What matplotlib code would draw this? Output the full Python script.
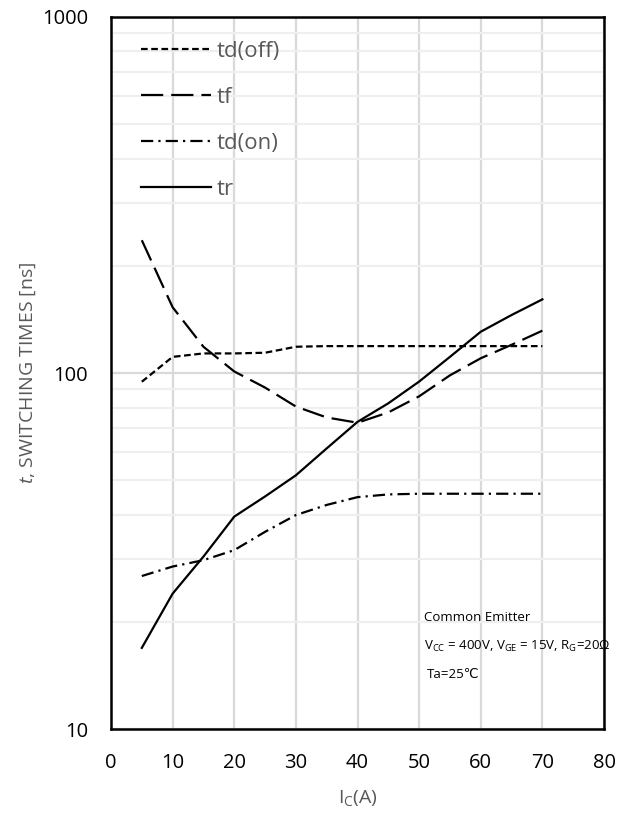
# switching times vs collector current, log y-axis
import matplotlib
matplotlib.use("Agg")
import matplotlib.pyplot as plt
from matplotlib.ticker import FixedLocator, NullFormatter

plt.rcParams["font.family"] = ["Open Sans", "DejaVu Sans"]
plt.rcParams["mathtext.fontset"] = "custom"
plt.rcParams["mathtext.rm"] = "Open Sans"
plt.rcParams["mathtext.it"] = "Open Sans:italic"

# %% data
ic = [5, 10, 15, 20, 25, 30, 35, 40, 45, 50, 55, 60, 65, 70]
td_off = [94.5, 111, 113.5, 113.5, 114, 118.5, 119, 119, 119, 119, 119, 119, 119, 119]
tf = [236, 153, 118.5, 101, 91, 80.5, 75, 72.5, 77.5, 86, 98.5, 110, 120, 131.5]
td_on = [26.9, 28.6, 29.8, 31.8, 35.8, 39.9, 42.6, 44.8, 45.6, 45.8, 45.8, 45.8, 45.8, 45.8]
tr = [16.9, 24.0, 30.5, 39.5, 45, 51.6, 61.4, 72.9, 82.2, 94.6, 111, 130.6, 145.5, 161]

x_ticks = [0, 10, 20, 30, 40, 50, 60, 70, 80]
y_ticks = [10, 100, 1000]

gray = "#595959"

# %% plot
fig = plt.figure(figsize=(6.25, 8.17), dpi=100)
ax = fig.add_axes([0.1776, 0.1077, 0.7888, 0.8715])

ax.plot(ic, td_off, color="black", lw=1.6, ls=(0, (3, 1.6)), label="td(off)")
ax.plot(ic, tf, color="black", lw=1.6, ls=(0, (10, 3.6)), label="tf")
ax.plot(ic, td_on, color="black", lw=1.6, ls=(0, (5.5, 2.3, 1, 2.3)), label="td(on)")
ax.plot(ic, tr, color="black", lw=1.6, ls="-", label="tr")

ax.set_yscale("log")
ax.set_xlim(0, 80)
ax.set_ylim(10, 1000)
ax.set_xticks(x_ticks)
ax.set_yticks(y_ticks)
ax.set_yticklabels([str(v) for v in y_ticks])
ax.yaxis.set_minor_locator(FixedLocator([m * d for d in (10, 100) for m in range(2, 10)]))
ax.yaxis.set_minor_formatter(NullFormatter())
ax.tick_params(which="both", length=0, labelsize=14.5, colors="black")
ax.tick_params(axis="x", pad=17)
ax.tick_params(axis="y", pad=16.5)

ax.grid(True, which="major", axis="both", color="#d9d9d9", lw=1.6)
ax.grid(True, which="minor", axis="y", color="#efefef", lw=1.6)
ax.set_axisbelow(True)
for s in ax.spines.values():
    s.set_linewidth(1.8)
    s.set_color("black")

ax.set_xlabel(r"I$_{\mathrm{C}}$(A)", fontsize=14, color=gray, labelpad=11)
ax.set_ylabel(r"$t$, SWITCHING TIMES [ns]", fontsize=14, color=gray, labelpad=3)

leg = ax.legend(loc="upper left", bbox_to_anchor=(0.061, 0.966), frameon=False,
                borderpad=0, borderaxespad=0,
                fontsize=16, labelcolor=gray, handlelength=3.15, handletextpad=0.27,
                labelspacing=1.12)

# annotation box
ax.text(0.635, 0.152, "Common Emitter", transform=ax.transAxes, fontsize=9.5, color="black")
ax.text(0.635, 0.111, r"V$_{\mathrm{CC}}$ = 400V, V$_{\mathrm{GE}}$ = 15V, R$_{\mathrm{G}}$=20Ω",
        transform=ax.transAxes, fontsize=9.5, color="black")
ax.text(0.64, 0.072, "Ta=25℃", transform=ax.transAxes, fontsize=9.5, color="black")

fig.savefig("out.png", dpi=100)
